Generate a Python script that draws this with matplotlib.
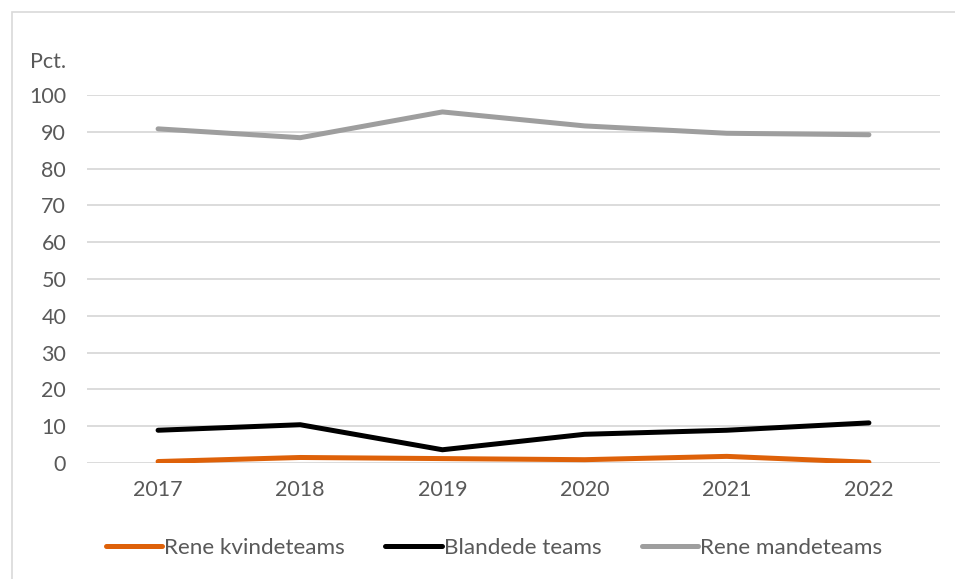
import matplotlib
matplotlib.use("Agg")
import matplotlib.pyplot as plt
from matplotlib.patches import Rectangle

plt.rcParams['font.family'] = ['Lato', 'DejaVu Sans']

# data
years = ["2017", "2018", "2019", "2020", "2021", "2022"]
kvinde = [0.4, 1.5, 1.2, 0.9, 1.8, 0.2]
blandet = [8.9, 10.4, 3.6, 7.8, 8.9, 10.9]
mande = [90.8, 88.4, 95.4, 91.6, 89.6, 89.2]

series_names = ["Rene kvindeteams", "Blandede teams", "Rene mandeteams"]
colors = ["#DE6109", "#000000", "#9E9E9E"]
fs = 15.5

fig = plt.figure(figsize=(9.55, 5.79), dpi=100)
ax = fig.add_axes([87/955, 1-463/579, (940-87)/955, (463-95)/579])

x = range(len(years))
for vals, name, c in zip([kvinde, blandet, mande], series_names, colors):
    ax.plot(x, vals, color=c, lw=3.6, label=name, solid_capstyle='round')

ax.set_xlim(-0.5, len(years)-0.5)
ax.set_ylim(0, 100)
ax.set_yticks(range(0, 101, 10))
ax.set_xticks(list(x))
ax.set_xticklabels(years)
ax.grid(axis='y', color='#D9D9D9', lw=1.3)
ax.set_axisbelow(True)
for s in ax.spines.values():
    s.set_visible(False)
ax.tick_params(length=0, labelsize=fs, labelcolor='#595959')
ax.tick_params(axis='y', pad=15)
ax.tick_params(axis='x', pad=12)

fig.text(30/955, 1-62/579, "Pct.", fontsize=fs, color='#595959', va='center', ha='left')

fig.legend(loc='center', bbox_to_anchor=(494/955, 1-548/579), ncol=3, frameon=False,
           fontsize=16.2, labelcolor='#595959', handlelength=2.5, handletextpad=0.1,
           columnspacing=1.8)

# outer chart border
fig.patches.append(Rectangle((12/955, -0.1), 1.2, 1-12/579+0.1, transform=fig.transFigure,
                             fill=False, edgecolor='#D9D9D9', lw=1.2))

fig.savefig("out.png", dpi=100)
